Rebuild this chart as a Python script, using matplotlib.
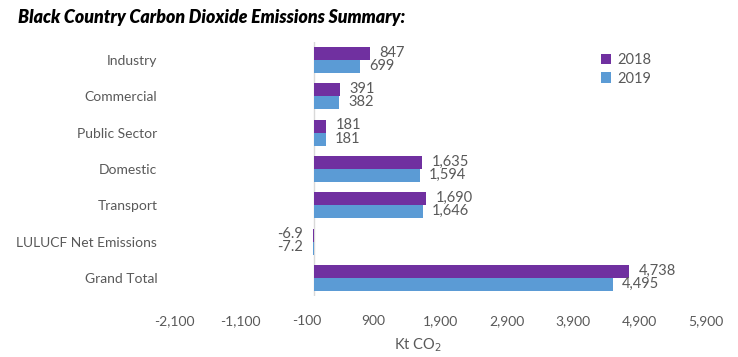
import matplotlib
matplotlib.use("Agg")
import matplotlib.pyplot as plt
import numpy as np

plt.rcParams['font.family'] = ['Lato', 'DejaVu Sans']

categories = ["Industry", "Commercial", "Public Sector", "Domestic", "Transport",
              "LULUCF Net Emissions", "Grand Total"]
values_2018 = [847, 391, 181, 1635, 1690, -6.9, 4738]
values_2019 = [699, 382, 181, 1594, 1646, -7.2, 4495]
series_names = ["2018", "2019"]
xticks = [-2100, -1100, -100, 900, 1900, 2900, 3900, 4900, 5900]
title = "Black Country Carbon Dioxide Emissions Summary:"

c2018 = "#7030A0"
c2019 = "#5B9BD5"
gray = "#595959"

W, H = 738, 357
fig = plt.figure(figsize=(W / 100, H / 100), dpi=100)
ax = fig.add_axes([174 / W, 1 - 296 / H, (706 - 174) / W, (296 - 42) / H])

y = np.arange(len(categories))
bh = 0.36
ax.barh(y - bh / 2, values_2018, height=bh, color=c2018, label=series_names[0])
ax.barh(y + bh / 2, values_2019, height=bh, color=c2019, label=series_names[1])

def fmt(v):
    if abs(v) < 100 and v != int(v):
        return f"{v:.1f}"
    return f"{int(round(v)):,}"

for yy, v in zip(y - bh / 2, values_2018):
    if v >= 0:
        ax.annotate(fmt(v), (v, yy), xytext=(7, 0.5), textcoords="offset points",
                    ha="left", va="center", fontsize=10.5, color=gray)
    else:
        ax.annotate(fmt(v), (0, yy), xytext=(-8, 0.5), textcoords="offset points",
                    ha="right", va="center", fontsize=10.5, color=gray)
for yy, v in zip(y + bh / 2, values_2019):
    if v >= 0:
        ax.annotate(fmt(v), (v, yy), xytext=(6.5, 0.5), textcoords="offset points",
                    ha="left", va="center", fontsize=10.5, color=gray)
    else:
        ax.annotate(fmt(v), (0, yy), xytext=(-8, 0.5), textcoords="offset points",
                    ha="right", va="center", fontsize=10.5, color=gray)

ax.set_xlim(-2100, 5900)
ax.set_ylim(len(categories) - 0.5, -0.5)
ax.set_xticks(xticks)
ax.set_xticklabels([f"{t:,}" for t in xticks], fontsize=10, color=gray)
ax.set_yticks(y)
ax.set_yticklabels(categories, fontsize=10, color=gray)
ax.tick_params(axis="both", length=0)
ax.tick_params(axis="x", pad=14)
ax.tick_params(axis="y", pad=12)
for s in ax.spines.values():
    s.set_visible(False)
ax.axvline(0, color="#D9D9D9", lw=1, zorder=0)

fig.text(418 / W, 1 - 345 / H, "Kt CO$_2$", ha="center", va="center",
         fontsize=10.5, color=gray)

fig.text(18 / W, 1 - 17 / H, title, ha="left", va="center", fontsize=12.8,
         fontweight="heavy", fontstyle="italic", color="black")

ax.legend(loc="upper left", bbox_to_anchor=(588 / W, 1 - 40 / H),
          bbox_transform=fig.transFigure, frameon=False, fontsize=10.5,
          handlelength=0.7, handleheight=0.7, handletextpad=0.4,
          labelspacing=0.3, labelcolor=gray)

fig.savefig("out.png", dpi=100)
